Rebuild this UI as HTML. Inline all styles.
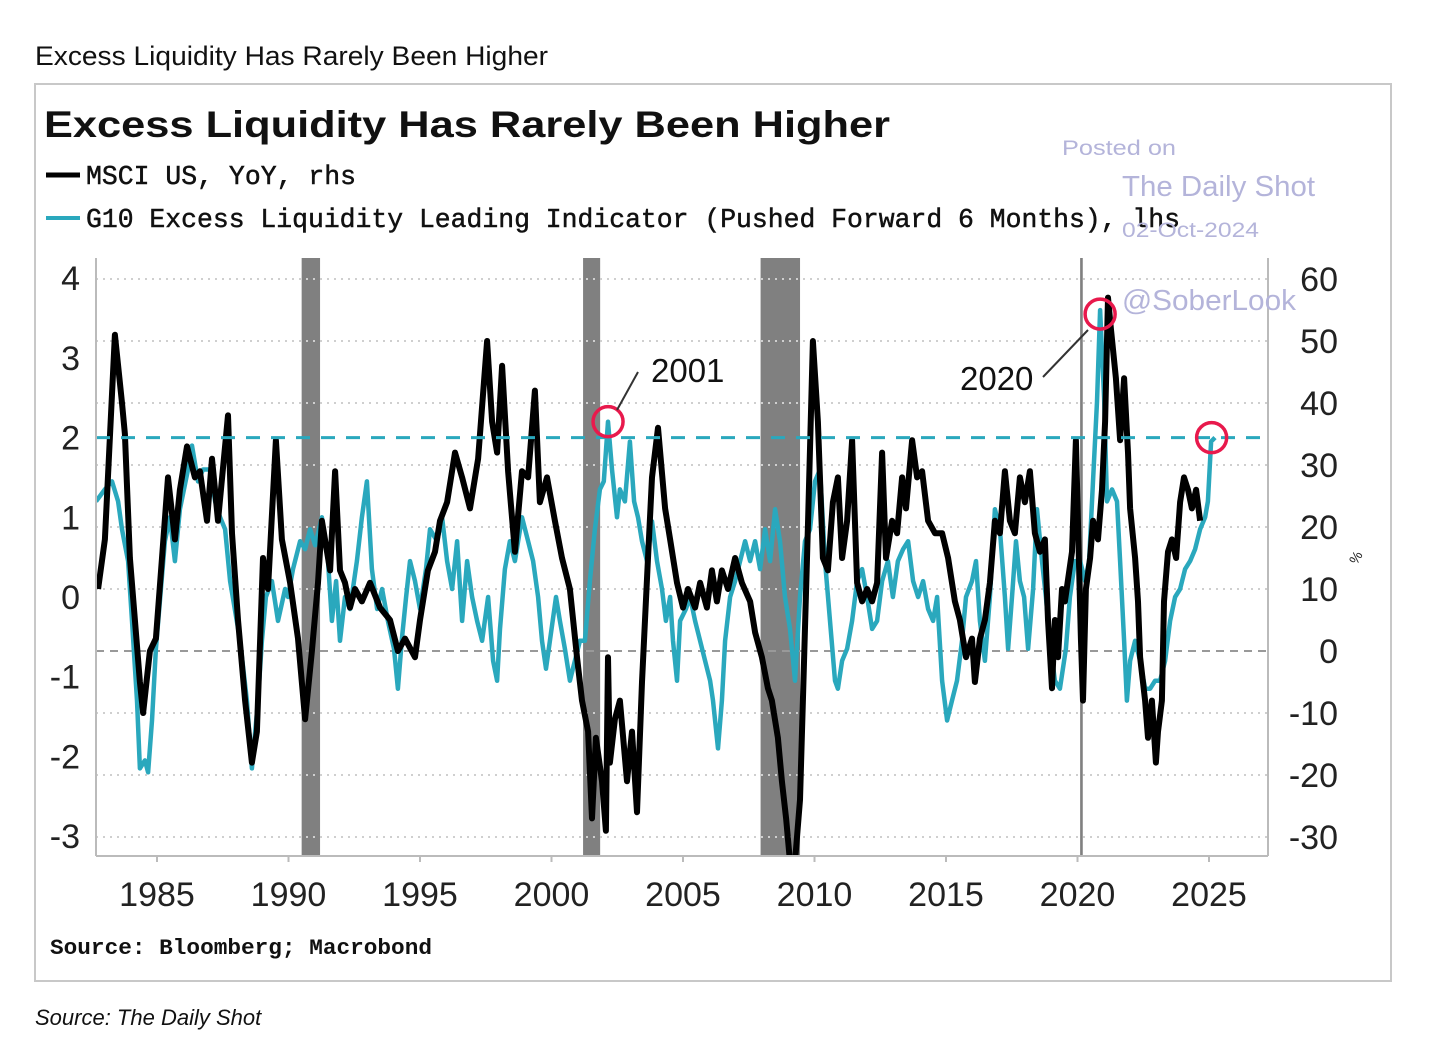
<!DOCTYPE html>
<html><head><meta charset="utf-8"><style>
html,body{margin:0;padding:0;background:#fff;width:1432px;height:1050px;overflow:hidden}
svg{display:block}
</style></head><body>
<svg id="chart" width="1432" height="1050" viewBox="0 0 1432 1050" xmlns="http://www.w3.org/2000/svg" font-family="Liberation Sans, sans-serif">
<text x="35" y="65" font-size="27" fill="#111" textLength="513" lengthAdjust="spacingAndGlyphs">Excess Liquidity Has Rarely Been Higher</text>
<rect x="35" y="84" width="1356" height="897" fill="#fff" stroke="#c8c8c8" stroke-width="2"/>
<text x="44" y="137" font-size="37" font-weight="bold" fill="#111" textLength="846" lengthAdjust="spacingAndGlyphs">Excess Liquidity Has Rarely Been Higher</text>
<g>
<line x1="46" y1="175" x2="80" y2="175" stroke="#000" stroke-width="5"/>
<text x="86" y="184" font-family="Liberation Mono, monospace" font-size="27" fill="#111" stroke="#111" stroke-width="0.5" textLength="270" lengthAdjust="spacingAndGlyphs">MSCI US, YoY, rhs</text>
<line x1="46" y1="218" x2="80" y2="218" stroke="#2aa8bd" stroke-width="4"/>
<text x="86" y="227" font-family="Liberation Mono, monospace" font-size="27" fill="#111" stroke="#111" stroke-width="0.5" textLength="1094" lengthAdjust="spacingAndGlyphs">G10 Excess Liquidity Leading Indicator (Pushed Forward 6 Months), lhs</text>
</g>
<g id="plot"></g>
<g fill="#b4b4da">
<text x="1062" y="155" font-size="21" textLength="114" lengthAdjust="spacingAndGlyphs">Posted on</text>
<text x="1122" y="196" font-size="29" textLength="193" lengthAdjust="spacingAndGlyphs">The Daily Shot</text>
<text x="1122" y="237" font-size="21" textLength="137" lengthAdjust="spacingAndGlyphs">02-Oct-2024</text>
<text x="1122" y="310" font-size="29" textLength="174" lengthAdjust="spacingAndGlyphs">@SoberLook</text>
</g>
<text x="50" y="954" font-family="Liberation Mono, monospace" font-weight="bold" font-size="22" fill="#111" textLength="382" lengthAdjust="spacingAndGlyphs">Source: Bloomberg; Macrobond</text>
<text x="35" y="1025" font-size="22" font-style="italic" fill="#111">Source: The Daily Shot</text>
</svg>
<script>
const msciYears=[1982.76,1983.02,1983.40,1983.67,1983.78,1983.97,1984.35,1984.47,1984.73,1984.96,1985.19,1985.42,1985.68,1985.87,1986.14,1986.44,1986.63,1986.90,1987.09,1987.32,1987.70,1987.85,1988.08,1988.35,1988.61,1988.80,1989.03,1989.22,1989.52,1989.75,1990.06,1990.36,1990.63,1990.89,1991.12,1991.27,1991.58,1991.77,1991.96,1992.15,1992.34,1992.53,1992.79,1993.10,1993.48,1993.86,1994.16,1994.43,1994.81,1995.00,1995.30,1995.57,1995.76,1996.03,1996.33,1996.60,1996.90,1997.21,1997.55,1997.74,1997.93,1998.12,1998.35,1998.61,1998.88,1999.11,1999.37,1999.56,1999.83,2000.13,2000.40,2000.70,2000.97,2001.16,2001.39,2001.54,2001.69,2001.92,2002.07,2002.15,2002.22,2002.41,2002.60,2002.87,2003.06,2003.25,2003.44,2003.67,2003.82,2004.05,2004.32,2004.51,2004.77,2005.00,2005.19,2005.46,2005.65,2005.91,2006.10,2006.29,2006.48,2006.71,2006.98,2007.24,2007.55,2007.74,2008.00,2008.23,2008.38,2008.61,2008.76,2008.92,2009.07,2009.26,2009.45,2009.56,2009.75,2009.94,2010.13,2010.32,2010.51,2010.70,2010.89,2011.05,2011.24,2011.43,2011.62,2011.81,2012.00,2012.19,2012.38,2012.57,2012.72,2012.95,2013.14,2013.33,2013.48,2013.71,2013.90,2014.09,2014.32,2014.58,2014.85,2015.08,2015.34,2015.53,2015.76,2015.99,2016.10,2016.29,2016.48,2016.67,2016.86,2017.05,2017.24,2017.43,2017.62,2017.81,2018.00,2018.19,2018.38,2018.57,2018.76,2018.88,2019.03,2019.14,2019.26,2019.41,2019.52,2019.79,2019.94,2020.13,2020.21,2020.32,2020.48,2020.59,2020.78,2020.93,2021.05,2021.16,2021.27,2021.46,2021.62,2021.77,2021.92,2022.00,2022.19,2022.30,2022.38,2022.57,2022.68,2022.83,2022.98,2023.06,2023.21,2023.29,2023.44,2023.59,2023.75,2023.90,2024.05,2024.20,2024.35,2024.51,2024.66];
const msciValues=[10,18,51,40,35,15,-5,-10,0,2,15,28,18,26,33,28,29,21,31,21,38,19,5,-8,-18,-13,15,10,34,18,11,2,-11,0,11,21,13,29,13,11,7,10,8,11,7,5,0,2,-1,5,13,16,21,24,32,28,23,31,50,37,32,46,29,16,29,28,42,24,28,21,15,10,-1,-8,-13,-27,-14,-21,-29,-1,-18,-11,-8,-21,-13,-26,-5,15,28,36,23,18,11,7,10,7,11,7,13,8,13,10,15,11,8,3,-1,-6,-8,-14,-21,-27,-34,-34,-24,-8,20,50,37,15,13,24,28,15,21,34,11,8,10,8,11,32,15,21,19,28,23,34,28,29,21,19,19,15,8,5,-1,2,-5,2,5,11,21,19,29,21,19,28,24,29,19,16,18,5,-6,5,-1,10,8,16,34,2,-8,10,15,21,18,26,37,57,52,44,34,44,32,23,15,8,-1,-8,-14,-8,-18,-13,-8,8,16,18,15,24,28,26,23,26,21];
const g10Years=[1982.68,1983.02,1983.29,1983.52,1983.67,1983.90,1984.05,1984.24,1984.35,1984.54,1984.66,1984.81,1984.96,1985.11,1985.30,1985.49,1985.68,1985.87,1986.18,1986.33,1986.56,1986.75,1987.02,1987.21,1987.40,1987.59,1987.78,1988.16,1988.42,1988.61,1988.84,1988.99,1989.14,1989.37,1989.60,1989.87,1989.98,1990.17,1990.44,1990.63,1990.82,1991.01,1991.27,1991.50,1991.65,1991.81,1991.96,1992.15,1992.34,1992.60,1992.79,1992.98,1993.17,1993.37,1993.56,1993.78,1994.01,1994.16,1994.32,1994.47,1994.62,1994.81,1995.00,1995.23,1995.38,1995.65,1995.84,1996.03,1996.22,1996.41,1996.60,1996.79,1996.98,1997.17,1997.36,1997.59,1997.78,1997.93,1998.04,1998.23,1998.42,1998.61,1998.88,1999.11,1999.30,1999.49,1999.64,1999.79,1999.94,2000.17,2000.32,2000.51,2000.70,2000.89,2001.08,2001.27,2001.46,2001.65,2001.84,2001.99,2002.15,2002.30,2002.49,2002.60,2002.79,2002.98,2003.14,2003.29,2003.44,2003.63,2003.82,2004.01,2004.20,2004.35,2004.51,2004.62,2004.77,2004.89,2005.11,2005.27,2005.46,2005.65,2005.84,2006.03,2006.14,2006.33,2006.48,2006.60,2006.79,2006.98,2007.17,2007.36,2007.55,2007.74,2007.93,2008.12,2008.31,2008.50,2008.69,2008.88,2009.07,2009.26,2009.45,2009.64,2009.83,2010.02,2010.21,2010.40,2010.59,2010.78,2010.89,2011.05,2011.24,2011.43,2011.62,2011.81,2012.00,2012.19,2012.38,2012.57,2012.79,2012.98,2013.17,2013.37,2013.56,2013.75,2013.94,2014.13,2014.32,2014.51,2014.66,2014.85,2015.04,2015.23,2015.42,2015.61,2015.76,2015.99,2016.14,2016.29,2016.48,2016.67,2016.86,2017.05,2017.24,2017.36,2017.51,2017.66,2017.81,2017.97,2018.12,2018.31,2018.46,2018.65,2018.80,2018.95,2019.14,2019.33,2019.56,2019.71,2019.90,2020.10,2020.29,2020.44,2020.59,2020.74,2020.86,2021.01,2021.12,2021.31,2021.50,2021.62,2021.77,2021.88,2022.00,2022.19,2022.38,2022.57,2022.76,2022.95,2023.14,2023.33,2023.52,2023.71,2023.90,2024.09,2024.28,2024.47,2024.66,2024.85,2024.96,2025.08,2025.23];
const g10Values=[1.2,1.35,1.45,1.2,0.85,0.45,-0.3,-1.3,-2.15,-2.05,-2.2,-1.55,-0.65,-0.05,0.7,1.0,0.45,1.1,1.6,1.9,1.45,1.6,1.6,1.2,1.0,0.85,0.2,-0.55,-1.3,-2.15,-1.3,-0.55,0,0.2,-0.3,0.1,0,0.35,0.7,0.6,0.85,0.65,1.0,0.45,-0.3,0.2,-0.55,0,-0.15,0.45,1.0,1.45,0.35,-0.15,0.1,-0.3,-0.65,-1.15,-0.5,0,0.45,0.2,-0.15,0.35,0.85,0.7,1.0,0.45,0.1,0.7,-0.3,0.45,0,-0.3,-0.55,0,-0.8,-1.05,-0.4,0.35,0.7,0.45,1.0,0.7,0.45,0,-0.55,-0.9,-0.55,0,-0.3,-0.65,-1.05,-0.8,-0.55,-0.55,0.2,0.85,1.35,1.45,2.2,1.6,1.0,1.35,1.2,1.95,1.2,1.0,0.7,0.45,0.95,0.45,0.1,-0.3,0,-0.55,-1.05,-0.3,-0.15,0,-0.3,-0.55,-0.8,-1.05,-1.3,-1.9,-1.3,-0.55,0,0.2,0.45,0.7,0.45,0.7,0.35,0.85,0.45,1.1,0.7,0,-0.4,-1.05,0,0.7,0.85,1.45,1.6,0.45,-0.3,-1.05,-1.15,-0.8,-0.65,-0.3,0.2,0.35,0,-0.4,-0.3,0.2,0.45,0,0.45,0.6,0.7,0.2,0,0.2,-0.15,-0.3,0,-1.05,-1.55,-1.3,-1.05,-0.55,0,0.2,0.45,-0.3,-0.8,0,1.1,0.85,0,-0.65,0,0.7,0.2,0,-0.65,0.1,1.1,0.45,0,-0.55,-1.05,-1.15,-0.65,0,0.45,0.45,0.2,0.45,1.45,2.45,3.6,2.5,1.2,1.35,1.2,0.45,-0.55,-1.3,-0.8,-0.55,-0.8,-1.15,-1.15,-1.05,-1.05,-0.8,-0.3,0,0.1,0.35,0.45,0.6,0.85,1.0,1.2,1.95,2.0];
const lhsTicks=[4,3,2,1,0,-1,-2,-3];
const rhsTicks=[60,50,40,30,20,10,0,-10,-20,-30];
const xTicks=[1985,1990,1995,2000,2005,2010,2015,2020,2025];
const recessions=[[1990.5,1991.2],[2001.2,2001.85],[2007.95,2009.45],[2020.1,2020.2]];
const highlights=[[2002.15,2.2],[2020.86,3.55],[2025.1,2.0]];
const thresholdLhs=2;

const L=96,R=1268,T=258,B=856;
const X=y=>157+(y-1985)*26.3;
const YL=v=>597-v*79.7;
const YR=v=>651-v*6.2;
const NS="http://www.w3.org/2000/svg";
const plot=document.getElementById('plot');
function mk(tag,attrs,parent){const e=document.createElementNS(NS,tag);for(const k in attrs)e.setAttribute(k,attrs[k]);(parent||plot).appendChild(e);return e;}

const defs=mk('defs',{});
const cp=mk('clipPath',{id:'clip'},defs);
mk('rect',{x:L,y:T,width:R-L,height:B-T},cp);

recessions.forEach(r=>{
  const el=mk('rect',{x:X(r[0]),y:T,width:Math.max(2,X(r[1])-X(r[0])),height:B-T,fill:'#808080'});
  
  
});
rhsTicks.forEach(v=>{
  if(v===0)return;
  const el=mk('line',{x1:L,x2:R,y1:YR(v),y2:YR(v),stroke:'#cfcfcf','stroke-width':2,'stroke-dasharray':'2 5'});
  
  
});
const zl=mk('line',{x1:L,x2:R,y1:YR(0),y2:YR(0),stroke:'#999','stroke-width':2,'stroke-dasharray':'8 6'});



function pathD(xs,ys,fy){return xs.map((x,i)=>(i?'L':'M')+X(x).toFixed(1)+','+fy(ys[i]).toFixed(1)).join('');}
const g10=mk('path',{d:pathD(g10Years,g10Values,YL),fill:'none',stroke:'#2aa8bd','stroke-width':4.5,'stroke-linejoin':'round','clip-path':'url(#clip)'});


const msci=mk('path',{d:pathD(msciYears,msciValues,YR),fill:'none',stroke:'#000','stroke-width':6,'stroke-linejoin':'round','clip-path':'url(#clip)'});



const th=mk('line',{x1:L,x2:1262,y1:YL(thresholdLhs),y2:YL(thresholdLhs),stroke:'#2aa8bd','stroke-width':3,'stroke-dasharray':'14 11'});



highlights.forEach(h=>{
  const c=mk('circle',{cx:X(h[0]),cy:YL(h[1]),r:15,fill:'none',stroke:'#e8194c','stroke-width':3.5});
  
  
});
const a1=mk('line',{x1:617,y1:410,x2:638,y2:372,stroke:'#333','stroke-width':2});


const t1=mk('text',{x:651,y:382,'font-size':33,fill:'#111'});t1.textContent='2001';


const a2=mk('line',{x1:1043,y1:377,x2:1088,y2:330,stroke:'#333','stroke-width':2});


const t2=mk('text',{x:960,y:390,'font-size':33,fill:'#111'});t2.textContent='2020';



[[L,'left-axis-line'],[R,'right-axis-line']].forEach(a=>{
  const el=mk('line',{x1:a[0],x2:a[0],y1:T,y2:B,stroke:'#bbb','stroke-width':2});
  
  
});
const bx=mk('line',{x1:L,x2:R,y1:B,y2:B,stroke:'#bbb','stroke-width':2});


lhsTicks.forEach(v=>{
  const t=mk('text',{x:80,y:YL(v)+12,'font-size':34,fill:'#222','text-anchor':'end'});
  t.textContent=String(v);
  
  
});
rhsTicks.forEach(v=>{
  const t=mk('text',{x:1338,y:YR(v)+12,'font-size':34,fill:'#222','text-anchor':'end'});
  t.textContent=String(v);
  
  
});
xTicks.forEach(v=>{
  const tk=mk('line',{x1:X(v),x2:X(v),y1:B,y2:B+6,stroke:'#bbb','stroke-width':2});
  
  
  const t=mk('text',{x:X(v),y:906,'font-size':34,fill:'#222','text-anchor':'middle'});
  t.textContent=String(v);
  
  
});
const pct=mk('text',{x:1360,y:560,'font-size':14,fill:'#222','text-anchor':'middle',transform:'rotate(-60 1360 560)'});
pct.textContent='%';


</script>
</body></html>
